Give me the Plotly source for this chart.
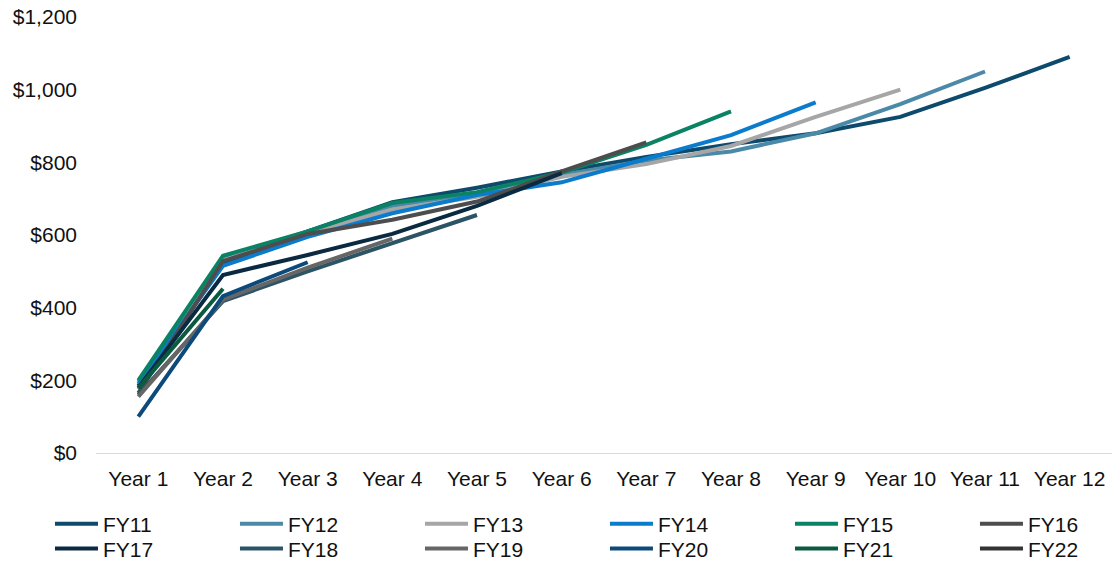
import plotly.graph_objects as go

# Cumulative value by year since start, one cohort per fiscal year
years = ["Year 1", "Year 2", "Year 3", "Year 4", "Year 5", "Year 6",
         "Year 7", "Year 8", "Year 9", "Year 10", "Year 11", "Year 12"]

fy11 = [185, 520, 610, 690, 730, 775, 815, 850, 880, 925, 1005, 1090]
fy12 = [195, 535, 610, 680, 715, 765, 805, 830, 880, 960, 1050]
fy13 = [175, 530, 605, 670, 705, 760, 795, 845, 925, 1000]
fy14 = [190, 515, 595, 660, 710, 745, 810, 875, 965]
fy15 = [200, 543, 610, 688, 718, 772, 848, 940]
fy16 = [165, 528, 603, 642, 692, 775, 855]
fy17 = [180, 490, 545, 603, 680, 770]
fy18 = [160, 418, 500, 578, 655]
fy19 = [155, 422, 510, 590]
fy20 = [100, 432, 525]
fy21 = [178, 452]
fy22 = [182]

cohorts = ["FY11", "FY12", "FY13", "FY14", "FY15", "FY16",
           "FY17", "FY18", "FY19", "FY20", "FY21", "FY22"]
series = [fy11, fy12, fy13, fy14, fy15, fy16,
          fy17, fy18, fy19, fy20, fy21, fy22]
colors = ["#0d4a6c", "#4a8aa8", "#a6a6a6", "#0b7bcc", "#0a8264", "#4d4d4d",
          "#0a2a42", "#2b5566", "#666666", "#0c4a7c", "#0a5a40", "#333333"]

FONT = "Liberation Sans, Arial, sans-serif"
TEXT = "#111111"

fig = go.Figure()
for i, (name, vals, col) in enumerate(zip(cohorts, series, colors)):
    fig.add_trace(go.Scatter(
        x=years[:len(vals)], y=vals, name=name, mode="lines",
        line=dict(color=col, width=4),
        legend="legend" if i < 6 else "legend2",
    ))

legend_common = dict(
    orientation="h", xanchor="left", yanchor="top", x=-0.0453,
    itemwidth=43, entrywidth=127, entrywidthmode="pixels",
    font=dict(family=FONT, size=21, color=TEXT),
    bgcolor="rgba(0,0,0,0)", itemclick=False, itemdoubleclick=False,
)

fig.update_layout(
    width=1112, height=565,
    margin=dict(l=96, r=0, t=17, b=112, autoexpand=False),
    paper_bgcolor="white", plot_bgcolor="white",
    font=dict(family=FONT, size=21, color=TEXT),
    showlegend=True,
    legend=dict(legend_common, y=-0.116),
    legend2=dict(legend_common, y=-0.173),
    xaxis=dict(
        type="category", categoryorder="array", categoryarray=years,
        range=[-0.5, 11.5], showgrid=False, zeroline=False,
        showline=True, linecolor="#d9d9d9", linewidth=1,
        ticks="", ticklabelstandoff=7,
        tickfont=dict(family=FONT, size=21, color=TEXT),
    ),
    yaxis=dict(
        range=[0, 1200], dtick=200, tickprefix="$", tickformat=",",
        showgrid=False, zeroline=False, showline=False,
        ticks="", ticklabelstandoff=18,
        tickfont=dict(family=FONT, size=21, color=TEXT),
    ),
)

fig.write_html("out.html")
